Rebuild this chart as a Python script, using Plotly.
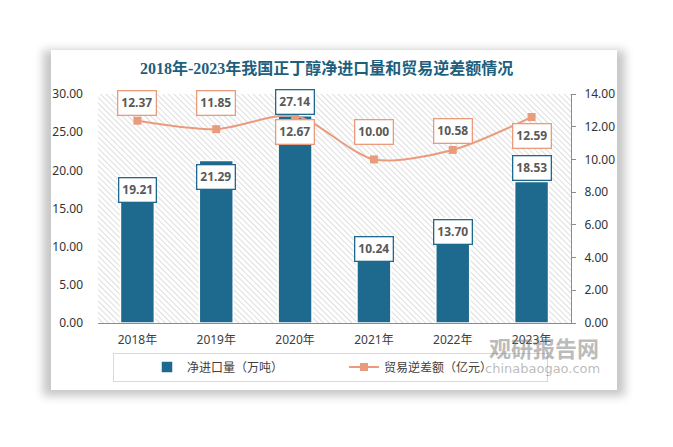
import base64
import plotly.graph_objects as go

# data
years = ['2018年', '2019年', '2020年', '2021年', '2022年', '2023年']
net_import = [19.21, 21.29, 27.14, 10.24, 13.70, 18.53]      # 万吨, left axis
trade_deficit = [12.37, 11.85, 12.67, 10.00, 10.58, 12.59]   # 亿元, right axis

# label offsets (px) relative to each point
bar_label_shift = [-14, -17, 14, -4, -14, 14]
line_label_shift = [18, 26, -16, 27, 19, -19]

W, H = 673, 447
ML, MR, MT, MB = 98, 102, 94, 124
PW, PH = W - ML - MR, H - MT - MB

BAR_C = '#1D6A8E'
LINE_C = '#E99B7B'
TXT = '#595959'

# card + shadow + hatched plot area + legend frame, as one background svg
svg = f'''<svg xmlns="http://www.w3.org/2000/svg" width="{W}" height="{H}" viewBox="0 0 {W} {H}">
<defs>
<filter id="s" x="-20%" y="-20%" width="140%" height="140%"><feGaussianBlur stdDeviation="5"/></filter>
<pattern id="h" width="4" height="4" patternUnits="userSpaceOnUse" patternTransform="rotate(-45)">
<line x1="0" y1="0" x2="0" y2="4" stroke="#c2c2c2" stroke-width="1.1"/></pattern>
</defs>
<rect x="43" y="50" width="582" height="346" fill="#000" opacity="0.22" filter="url(#s)"/>
<rect x="51" y="50" width="566" height="340" fill="#fff"/>
<rect x="{ML}" y="{MT}" width="{PW}" height="{PH}" fill="url(#h)"/>
<rect x="113.5" y="353.5" width="434" height="28" fill="none" stroke="#d9d9d9" stroke-width="1"/>
</svg>'''
bg_src = 'data:image/svg+xml;base64,' + base64.b64encode(svg.encode()).decode()


def px_x(x):
    return (x - ML) / PW


def px_y(y):
    return (H - MB - y) / PH


fig = go.Figure()
fig.add_trace(go.Bar(
    x=years, y=net_import, name='净进口量（万吨）',
    marker=dict(color=BAR_C, line=dict(color='white', width=1.5)),
))
fig.add_trace(go.Scatter(
    x=years, y=trade_deficit, name='贸易逆差额（亿元）', yaxis='y2',
    mode='lines+markers',
    line=dict(color=LINE_C, width=2, shape='spline', smoothing=0.8),
    marker=dict(symbol='square', size=8, color=LINE_C),
))

annotations = []
for yr, v, s in zip(years, net_import, bar_label_shift):
    annotations.append(dict(
        x=yr, y=v, xref='x', yref='y', text=f'<b>{v:.2f}</b>', showarrow=False,
        xanchor='center', yanchor='middle',
        yshift=s, bgcolor='white', bordercolor=BAR_C, borderwidth=1.3, borderpad=3,
        font=dict(family='Noto Sans, DejaVu Sans', size=12, color=TXT)))
for yr, v, s in zip(years, trade_deficit, line_label_shift):
    annotations.append(dict(
        x=yr, y=v, xref='x', yref='y2', text=f'<b>{v:.2f}</b>', showarrow=False,
        xanchor='center', yanchor='middle',
        yshift=s, bgcolor='white', bordercolor=LINE_C, borderwidth=1.3, borderpad=3,
        font=dict(family='Noto Sans, DejaVu Sans', size=12, color=TXT)))

# title
annotations.append(dict(
    x=px_x(326), y=px_y(68), xref='paper', yref='paper', showarrow=False,
    xanchor='center', yanchor='middle',
    text='<b>2018年-2023年我国正丁醇净进口量和贸易逆差额情况</b>',
    font=dict(family='Liberation Serif, Noto Sans CJK SC', size=16, color='#1E5F7E')))

# watermark
annotations.append(dict(
    x=px_x(544), y=px_y(347), xref='paper', yref='paper', showarrow=False,
    xanchor='center', yanchor='middle',
    text='<b>观研报告网</b>',
    font=dict(family='Noto Sans CJK SC', size=22, color='rgba(120,120,120,0.5)')))
annotations.append(dict(
    x=px_x(542), y=px_y(368), xref='paper', yref='paper', showarrow=False,
    xanchor='center', yanchor='middle',
    text='chinabaogao.com',
    font=dict(family='DejaVu Sans', size=13, color='rgba(120,120,120,0.5)')))

fig.update_layout(
    width=W, height=H,
    margin=dict(l=ML, r=MR, t=MT, b=MB, pad=0),
    paper_bgcolor='white', plot_bgcolor='rgba(0,0,0,0)',
    bargap=0.57,
    showlegend=True,
    legend=dict(orientation='h', x=px_x(147), y=px_y(367), yanchor='middle', xanchor='left',
                bgcolor='rgba(0,0,0,0)', entrywidth=152,
                font=dict(family='Noto Sans CJK SC', size=12, color='#404040')),
    xaxis=dict(showline=True, linecolor='#8c8c8c', linewidth=1, ticks='',
               tickfont=dict(family='Noto Sans, Noto Sans CJK SC', size=12, color='#404040'),
               ticklabelstandoff=6),
    yaxis=dict(range=[0, 30], dtick=5, tickformat='.2f', showgrid=False, zeroline=False,
               showline=False, ticks='', ticklabelstandoff=14,
               tickfont=dict(family='Noto Sans', size=12, color='#333333')),
    yaxis2=dict(range=[0, 14], dtick=2, tickformat='.2f', overlaying='y', side='right',
                showgrid=False, zeroline=False, showline=True, linecolor='#8c8c8c',
                ticks='outside', ticklen=4, tickcolor='#8c8c8c', ticklabelstandoff=6,
                tickfont=dict(family='Noto Sans', size=12, color='#333333')),
    annotations=annotations,
    images=[dict(source=bg_src, xref='paper', yref='paper', x=px_x(0), y=px_y(0),
                 sizex=W / PW, sizey=H / PH, xanchor='left', yanchor='top',
                 sizing='stretch', layer='below')],
)

fig.write_html('out.html', config={'displayModeBar': False},
               post_script="document.body.style.margin='0px';")
